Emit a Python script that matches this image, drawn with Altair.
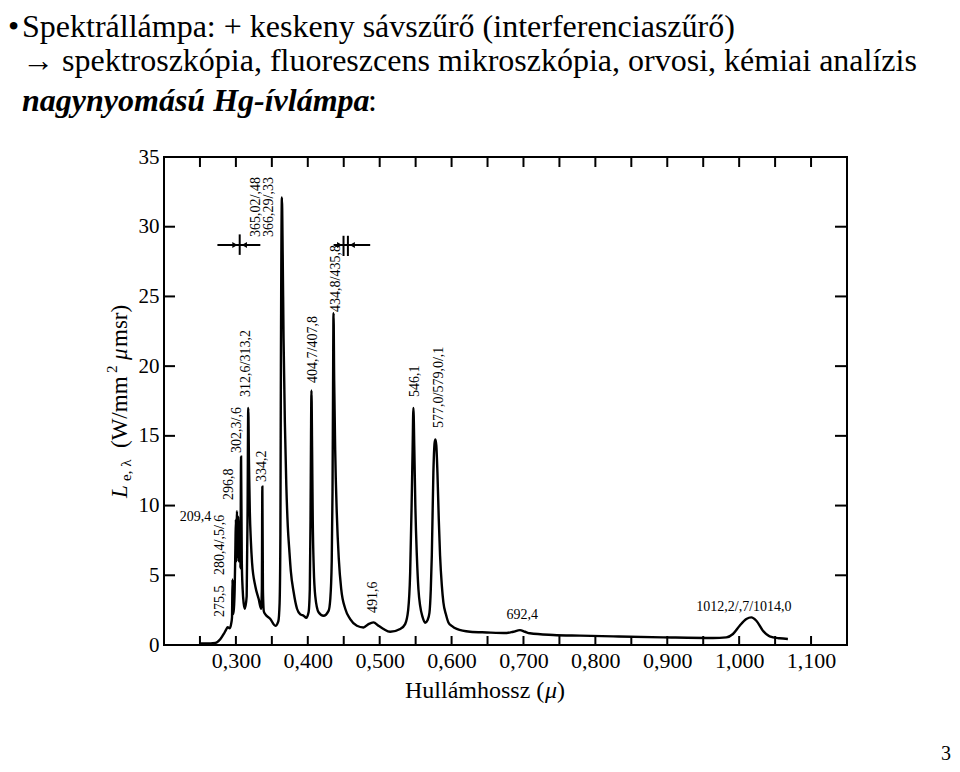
import altair as alt
import pandas as pd

# ---------------- data ----------------
wavelength_um = [
    0.2507, 0.2646, 0.2715, 0.2785, 0.2831, 0.2864, 0.2886, 0.2914, 0.2937, 0.2946,
    0.2953, 0.2960, 0.2972, 0.2983, 0.2993, 0.3000, 0.3007, 0.3015, 0.3024, 0.3032,
    0.3042, 0.3053, 0.3063, 0.3072, 0.3082, 0.3094, 0.3108, 0.3125, 0.3150, 0.3163,
    0.3172, 0.3182, 0.3194, 0.3208, 0.3225, 0.3271, 0.3317, 0.3350, 0.3361, 0.3368,
    0.3376, 0.3389, 0.3410, 0.3479, 0.3549, 0.3590, 0.3608, 0.3619, 0.3626, 0.3640,
    0.3651, 0.3663, 0.3681, 0.3701, 0.3722, 0.3743, 0.3764, 0.3803, 0.3850, 0.3896,
    0.3942, 0.3979, 0.4011, 0.4028, 0.4038, 0.4045, 0.4051, 0.4060, 0.4069, 0.4083,
    0.4104, 0.4150, 0.4219, 0.4289, 0.4313, 0.4333, 0.4344, 0.4351, 0.4358, 0.4367,
    0.4381, 0.4403, 0.4431, 0.4465, 0.4521, 0.4590, 0.4683, 0.4775, 0.4844, 0.4914,
    0.4983, 0.5053, 0.5146, 0.5285, 0.5354, 0.5396, 0.5424, 0.5444, 0.5458, 0.5469,
    0.5482, 0.5496, 0.5517, 0.5539, 0.5563, 0.5597, 0.5632, 0.5667, 0.5692, 0.5711,
    0.5725, 0.5747, 0.5764, 0.5775, 0.5788, 0.5803, 0.5822, 0.5840, 0.5864, 0.5886,
    0.5921, 0.5956, 0.6007, 0.6072, 0.6257, 0.6489, 0.6767, 0.6858, 0.6951, 0.7021,
    0.7090, 0.7414, 0.7785, 0.8247, 0.8942, 0.9636, 0.9822, 0.9914, 1.0007, 1.0100,
    1.0169, 1.0239, 1.0331, 1.0424, 1.0563, 1.0678,
]
radiance = [
    0.12, 0.12, 0.15, 0.43, 0.79, 1.10, 1.27, 1.20, 1.60, 2.00,
    4.70, 2.20, 2.60, 4.00, 7.00, 9.00, 6.00, 9.60, 7.00, 9.20,
    6.00, 8.00, 5.50, 13.50, 6.00, 4.00, 3.00, 2.60, 3.50, 10.00,
    17.00, 13.00, 9.50, 7.50, 5.90, 4.20, 3.30, 2.60, 4.00, 11.36,
    4.00, 2.40, 2.20, 1.86, 1.38, 1.70, 3.00, 8.00, 20.00, 32.10,
    28.00, 22.00, 16.00, 11.50, 8.50, 6.80, 5.30, 3.80, 2.60, 2.20,
    2.10, 1.95, 2.35, 4.00, 9.00, 15.00, 18.25, 14.00, 9.00, 5.50,
    3.50, 2.35, 2.10, 2.45, 3.30, 6.00, 11.00, 18.00, 23.80, 19.00,
    14.00, 9.50, 6.20, 4.00, 2.60, 1.86, 1.38, 1.26, 1.50, 1.62,
    1.38, 1.15, 0.95, 1.15, 1.50, 2.50, 5.20, 10.00, 14.00, 17.00,
    14.00, 10.00, 6.40, 4.00, 2.80, 2.00, 1.60, 1.80, 2.30, 4.00,
    6.40, 12.40, 14.50, 14.75, 14.30, 12.40, 9.00, 6.40, 4.30, 3.06,
    2.20, 1.62, 1.35, 1.15, 0.95, 0.90, 0.86, 0.95, 1.07, 0.95,
    0.84, 0.72, 0.67, 0.62, 0.55, 0.50, 0.55, 0.79, 1.38, 1.86,
    1.98, 1.74, 1.02, 0.62, 0.48, 0.43,
]

x_label_values = [0.3, 0.4, 0.5, 0.6, 0.7, 0.8, 0.9, 1.0, 1.1]
x_tick_values = [0.25, 0.30, 0.35, 0.40, 0.45, 0.50, 0.55, 0.60, 0.65, 0.70,
                 0.75, 0.80, 0.85, 0.90, 0.95, 1.00, 1.05, 1.10]
y_label_values = [0, 5, 10, 15, 20, 25, 30, 35]
y_tick_values = [5, 10, 15, 20, 25, 30]

rot_labels = ["275,5", "280,4/,5/,6", "296,8", "302,3/,6", "312,6/313,2", "334,2",
              "365,02/,48", "366,29/,33", "404,7/407,8", "434,8/435,8", "491,6",
              "546,1", "577,0/579,0/,1"]
rot_lam = [0.2785, 0.2785, 0.2910, 0.3021, 0.3146, 0.3368, 0.3285, 0.3466,
           0.4077, 0.4397, 0.4911, 0.5494, 0.5828]
rot_val = [2.01, 5.02, 10.40, 13.77, 17.79, 11.69, 29.27, 29.27,
           18.79, 23.89, 2.30, 17.79, 15.57]

hor_labels = ["209,4", "692,4", "1012,2/,7/1014,0"]
hor_lam = [0.2437, 0.6982, 1.0067]
hor_val = [9.18, 2.15, 2.73]

seg_x1 = [0.2743, 0.3053, 0.4359, 0.4497, 0.4558]
seg_x2 = [0.3340, 0.3053, 0.4868, 0.4497, 0.4558]
seg_y1 = [28.69, 27.98, 28.69, 27.90, 27.90]
seg_y2 = [28.69, 29.45, 28.69, 29.35, 29.35]

head_lam = [0.2986, 0.3118, 0.4443, 0.4619]
head_val = [28.69, 28.69, 28.69, 28.69]
head_shape = ["triangle-right", "triangle-left", "triangle-right", "triangle-left"]

# ---------------- chart ----------------
W, H = 683, 488
SERIF = "Liberation Serif"
xs = alt.Scale(domain=[0.2, 1.15], nice=False, zero=False)
ys = alt.Scale(domain=[0, 35], nice=False, zero=False)

x_axis = alt.Axis(
    values=x_label_values, title=None, ticks=False, tickSize=0, domain=False, grid=False,
    labelExpr="replace(format(datum.value, '.3f'), '.', ',')",
    labelFont=SERIF, labelFontSize=22, labelColor="black", labelPadding=5,
    labelFlush=False, labelOverlap=False)
y_axis = alt.Axis(
    values=y_label_values, title=None, ticks=False, tickSize=0, domain=False, grid=False,
    labelFont=SERIF, labelFontSize=21, labelColor="black", labelPadding=5,
    labelFlush=False, labelOverlap=False)


def X(field):
    return alt.X(field, scale=xs, axis=x_axis)


def Y(field):
    return alt.Y(field, scale=ys, axis=y_axis)


spec_df = pd.DataFrame({"lam": wavelength_um, "L": radiance})

curve = alt.Chart(spec_df).mark_line(
    color="black", strokeWidth=2.4, interpolate="monotone"
).encode(x=X("lam:Q"), y=Y("L:Q"))

xt_df = pd.DataFrame({"lam": x_tick_values})
yt_df = pd.DataFrame({"L": y_tick_values})
tick_style = dict(color="black", strokeWidth=2)
bottom_ticks = alt.Chart(xt_df).mark_rule(**tick_style).encode(
    x=X("lam:Q"), y=alt.value(H), y2=alt.value(H - 9))
top_ticks = alt.Chart(xt_df).mark_rule(**tick_style).encode(
    x=X("lam:Q"), y=alt.value(0), y2=alt.value(10))
left_ticks = alt.Chart(yt_df).mark_rule(**tick_style).encode(
    y=Y("L:Q"), x=alt.value(0), x2=alt.value(11))
right_ticks = alt.Chart(yt_df).mark_rule(**tick_style).encode(
    y=Y("L:Q"), x=alt.value(W), x2=alt.value(W - 12))

rot_df = pd.DataFrame({"lab": rot_labels, "lam": rot_lam, "L": rot_val})
rot_text = alt.Chart(rot_df).mark_text(
    angle=270, align="left", baseline="middle", font=SERIF, fontSize=14, color="black"
).encode(x=X("lam:Q"), y=Y("L:Q"), text="lab:N")

hor_df = pd.DataFrame({"lab": hor_labels, "lam": hor_lam, "L": hor_val})
hor_text = alt.Chart(hor_df).mark_text(
    align="center", baseline="middle", font=SERIF, fontSize=14, color="black"
).encode(x=X("lam:Q"), y=Y("L:Q"), text="lab:N")

seg_df = pd.DataFrame({"lam": seg_x1, "x2": seg_x2, "L": seg_y1, "y2": seg_y2})
segs = alt.Chart(seg_df).mark_rule(color="black", strokeWidth=2).encode(
    x=X("lam:Q"), x2="x2:Q", y=Y("L:Q"), y2="y2:Q")

head_df = pd.DataFrame({"lam": head_lam, "L": head_val, "shp": head_shape})
heads = alt.Chart(head_df).mark_point(filled=True, color="black", size=35, opacity=1).encode(
    x=X("lam:Q"), y=Y("L:Q"), shape=alt.Shape("shp:N", scale=None))


def txt(s, x, y, size, **kw):
    base = dict(font=SERIF, fontSize=size, color="black")
    base.update(kw)
    return alt.Chart(pd.DataFrame({"t": [s]})).mark_text(**base).encode(
        x=alt.value(x), y=alt.value(y), text="t:N")


# slide text (positions relative to plot origin)
slide = [
    txt("•", -156, -120, 32, align="left", baseline="alphabetic"),
    txt("Spektrállámpa: + keskeny sávszűrő (interferenciaszűrő)", -142, -120, 32,
        align="left", baseline="alphabetic"),
    txt("→ spektroszkópia, fluoreszcens mikroszkópia, orvosi, kémiai analízis", -142, -86, 32,
        align="left", baseline="alphabetic"),
    txt("nagynyomású Hg-ívlámpa", -142, -46, 32, align="left", baseline="alphabetic",
        fontWeight="bold", fontStyle="italic"),
    txt(":", 204, -46, 32, align="left", baseline="alphabetic"),
    txt("3", 777, 603, 20, align="left", baseline="alphabetic"),
]

# axis titles
ytitle = [
    txt("L", -37, 341, 23, angle=270, align="left", baseline="alphabetic", fontStyle="italic"),
    txt("e, λ", -33, 324, 15, angle=270, align="left", baseline="alphabetic"),
    txt("(W/mm", -37, 291, 23, angle=270, align="left", baseline="alphabetic"),
    txt("2", -47, 216, 15, angle=270, align="left", baseline="alphabetic"),
    txt("μ", -37, 203, 23, angle=270, align="left", baseline="alphabetic", fontStyle="italic"),
    txt("msr)", -37, 190, 23, angle=270, align="left", baseline="alphabetic"),
]
xtitle = [
    txt("Hullámhossz (", 241, 541, 24, align="left", baseline="alphabetic"),
    txt("μ", 381, 541, 24, align="left", baseline="alphabetic", fontStyle="italic"),
    txt(")", 393, 541, 24, align="left", baseline="alphabetic"),
]

chart = alt.layer(
    curve, bottom_ticks, top_ticks, left_ticks, right_ticks,
    rot_text, hor_text, segs, heads, *slide, *ytitle, *xtitle
).properties(
    width=W, height=H,
    padding={"left": 156, "top": 149, "right": 105, "bottom": 119},
    autosize=alt.AutoSizeParams(type="none"),
    background="white",
).configure_view(stroke="black", strokeWidth=2)

chart.save("out.html", embed_options={"renderer": "svg", "actions": False})
